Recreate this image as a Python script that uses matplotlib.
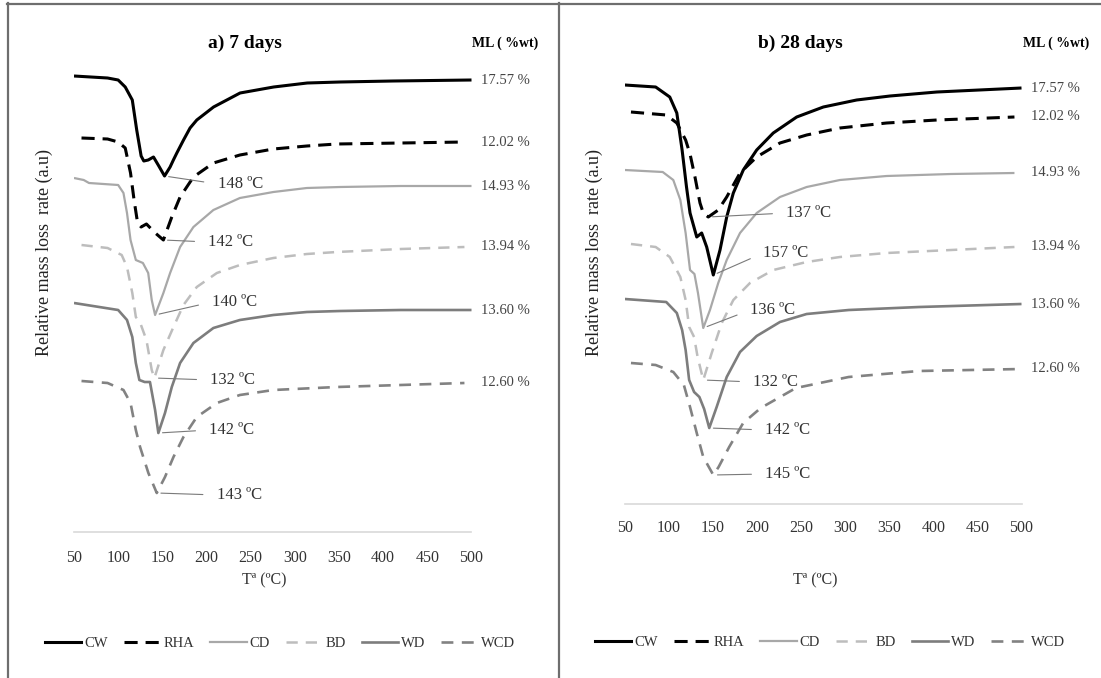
import matplotlib
matplotlib.use("Agg")
import matplotlib.pyplot as plt
from matplotlib.lines import Line2D
import numpy as np

plt.rcParams['font.family'] = ['Liberation Serif', 'DejaVu Serif']

# ---------------- data (temperature in ºC, relative mass-loss rate in a.u.) -------------
series_names = ["CW", "RHA", "CD", "BD", "WD", "WCD"]
xtick_values = [50, 100, 150, 200, 250, 300, 350, 400, 450, 500]
xtick_labels = ["50", "100", "150", "200", "250", "300", "350", "400", "450", "500"]
ml_labels = ["17.57 %", "12.02 %", "14.93 %", "13.94 %", "13.60 %", "12.60 %"]

# ---- a) 7 days
T_cw7 = [50, 88, 100, 108, 116, 121, 126, 129, 134, 140, 146, 152.5, 158.8, 162.5, 166.4, 174, 181.4, 189, 208, 223, 238, 276, 314, 351, 411, 500]
y_cw7 = [456, 454, 452, 445, 432, 402, 376, 371, 372, 375, 366, 356, 365, 372, 379, 392, 404, 412, 425, 432, 439, 445, 449, 450, 451, 452]
T_rha7 = [58.5, 88, 100, 108, 114, 118, 122, 126, 132, 142, 151.2, 160.7, 170.1, 185.2, 207.8, 237.8, 275.7, 313.6, 347.5, 420, 492]
y_rha7 = [394, 393, 390, 384, 359, 332, 309, 305, 308, 299, 292, 315, 335, 355, 369, 377, 383, 386, 388, 389, 390]
T_cd7 = [50, 61, 67, 100, 106, 110, 114, 120, 128, 134, 138, 141.8, 151.2, 158.8, 170.1, 185.2, 207.8, 237.8, 275.7, 313.6, 351.3, 420, 500]
y_cd7 = [354, 352, 349, 347, 339, 319, 292, 272, 269, 259, 232, 217, 239, 259, 285, 305, 322, 334, 340, 344, 345, 346, 346]
T_bd7 = [58.5, 88, 104, 110, 116, 120, 125, 132, 138, 141, 151.2, 162.6, 173.9, 189, 211.7, 237.8, 275.7, 313.6, 347.5, 420, 492]
y_bd7 = [287, 284, 277, 265, 239, 215, 209, 192, 162, 154, 182, 205, 227, 245, 259, 267, 274, 278, 280, 283, 285]
T_wd7 = [50, 100, 110, 116, 120, 124, 130, 136, 141.8, 145.5, 153, 160.7, 170.1, 185.2, 207.8, 237.8, 275.7, 313.6, 351.3, 420, 500]
y_wd7 = [229, 222, 212, 195, 169, 152, 150, 150, 122, 99, 119, 145, 169, 189, 204, 212, 217, 220, 221, 222, 222]
T_wcd7 = [58.5, 88, 106, 114, 120, 124.8, 134.2, 143.7, 153, 162.6, 173.9, 189, 211.7, 237.8, 275.7, 347.5, 420, 492]
y_wcd7 = [151, 149, 142, 129, 102, 85, 59, 39, 55, 75, 95, 115, 129, 137, 142, 145, 147, 149]
peaks_7 = ["148 ºC", "142 ºC", "140 ºC", "132 ºC", "142 ºC", "143 ºC"]

# ---- b) 28 days
T_cw28 = [50, 85, 101, 109, 115, 120, 124, 131.6, 137.2, 142.9, 150.4, 158, 165.6, 173.1, 184.4, 199.6, 218.4, 245, 275.2, 313, 350.8, 404, 500]
y_cw28 = [419, 417, 407, 391, 354, 317, 291, 267, 271, 257, 229, 254, 287, 311, 334, 354, 371, 387, 397, 404, 408, 412, 416]
T_rha28 = [57, 97, 109, 119, 124, 129.6, 135.3, 139, 144.7, 156, 165.6, 180.7, 199.6, 226, 256.3, 294, 347, 404, 492]
y_rha28 = [392, 389, 381, 364, 350, 327, 301, 291, 287, 294, 307, 331, 347, 361, 369, 376, 381, 384, 387]
T_cd28 = [50, 93, 105, 113, 119, 124, 129, 133, 139, 146.6, 156, 165.6, 180.7, 199.6, 226, 256.3, 294, 347, 420, 492]
y_cd28 = [334, 332, 324, 304, 271, 234, 230, 211, 176, 194, 221, 244, 271, 291, 307, 317, 324, 328, 330, 331]
T_bd28 = [57, 85, 101, 113, 119, 123, 128.6, 132.6, 139, 148.6, 160, 173.1, 192, 218.4, 256.3, 294, 347, 420, 492]
y_bd28 = [260, 257, 247, 227, 204, 177, 167, 147, 124, 151, 181, 204, 221, 234, 242, 247, 251, 254, 257]
T_wd28 = [50, 97, 109, 115, 119, 123, 128.6, 134.6, 140, 145.8, 154.2, 165.6, 180.7, 199.6, 226, 256.3, 304, 384, 500]
y_wd28 = [205, 202, 191, 174, 154, 124, 112, 107, 95, 76, 97, 127, 152, 168, 182, 190, 194, 197, 200]
T_wcd28 = [57, 85, 105, 117, 124, 131.6, 139, 150.4, 156.4, 168.4, 184.3, 204.2, 244.1, 303.9, 383.6, 500]
y_wcd28 = [141, 139, 132, 119, 97, 71, 47, 29, 37, 57, 81, 96, 116, 127, 133, 135]
peaks_28 = ["157 ºC", "137 ºC", "136 ºC", "132 ºC", "142 ºC", "145 ºC"]

# ---------------- styles -------------
styles = {
    "CW":  dict(color="black", lw=2.2, ls="-"),
    "RHA": dict(color="black", lw=2.2, dashes=(4.3, 2.6)),
    "CD":  dict(color="#a8a8a8", lw=1.6, ls="-"),
    "BD":  dict(color="#bdbdbd", lw=1.8, dashes=(4.5, 3.2)),
    "WD":  dict(color="#7d7d7d", lw=1.9, ls="-"),
    "WCD": dict(color="#828282", lw=1.9, dashes=(4.5, 3.2)),
}

W, H = 1101, 678
fig = plt.figure(figsize=(W / 100, H / 100), dpi=100)


def fx(px):
    return px / W


def fy(py):
    return 1 - py / H


panels = [
    dict(rect=[fx(74), fy(532), 397.5 / W, 512 / H], ymax=512, pad=13,
         T=[T_cw7, T_rha7, T_cd7, T_bd7, T_wd7, T_wcd7],
         y=[y_cw7, y_rha7, y_cd7, y_bd7, y_wd7, y_wcd7],
         peaks=peaks_7,
         offsets=[(53, -8), (45, -2), (57, 13), (56, -2), (51, 3), (60, -2)],
         title="a) 7 days", title_x=245, ml_x=505, ylab_x=44, xlab=(264, 580),
         leg=(280, 643)),
    dict(rect=[fx(624.8), fy(504), 396.7 / W, 484 / H], ymax=484, pad=11.5,
         T=[T_cw28, T_rha28, T_cd28, T_bd28, T_wd28, T_wcd28],
         y=[y_cw28, y_rha28, y_cd28, y_bd28, y_wd28, y_wcd28],
         peaks=peaks_28,
         offsets=[(50, 22), (78, 4), (47, 18), (50, -2), (56, -2), (52, 1)],
         title="b) 28 days", title_x=800, ml_x=1056, ylab_x=594, xlab=(815, 580),
         leg=(830, 642)),
]

for p in panels:
    ax = fig.add_axes(p["rect"])
    ax.set_xlim(50, 500)
    ax.set_ylim(0, p["ymax"])
    for s in ("top", "right", "left"):
        ax.spines[s].set_visible(False)
    ax.spines["bottom"].set_color("#d9d9d9")
    ax.spines["bottom"].set_linewidth(1.2)
    ax.set_yticks([])
    ax.set_xticks(xtick_values)
    ax.set_xticklabels(xtick_labels)
    ax.tick_params(axis="x", length=0, pad=p["pad"], labelsize=11.5, labelcolor="#333333")
    ax.patch.set_alpha(0)

    for name, T, y, lab, pk, off in zip(series_names, p["T"], p["y"], ml_labels, p["peaks"], p["offsets"]):
        ax.plot(T, y, solid_capstyle="butt", dash_capstyle="butt",
                solid_joinstyle="round", **styles[name])
        # mass-loss label at end of curve
        ax.text(538.5, y[-1], lab, ha="center", va="center", fontsize=10.5,
                color="#444444", clip_on=False)
        # peak annotation
        i = int(np.argmin(y))
        ax.annotate(pk, xy=(T[i], y[i]), xytext=off, textcoords="offset pixels",
                    ha="left", va="center", fontsize=12, color="#333333",
                    annotation_clip=False,
                    arrowprops=dict(arrowstyle="-", color="#7a7a7a", lw=0.8,
                                    shrinkA=8, shrinkB=3, relpos=(0, 0.5)))

    fig.text(fx(p["title_x"]), fy(43), p["title"], ha="center", va="center",
             fontsize=14, fontweight="bold")
    fig.text(fx(p["ml_x"]), fy(43), "ML ( %wt)", ha="center", va="center",
             fontsize=10, fontweight="bold")
    fig.text(fx(p["ylab_x"]), fy(253), "Relative mass loss  rate (a.u)", rotation=90,
             ha="center", va="center", fontsize=13, color="#222222")
    fig.text(fx(p["xlab"][0]), fy(p["xlab"][1]), "Tª (ºC)", ha="center", va="center",
             fontsize=11.5, color="#333333")

    handles = [Line2D([], [], **styles[n]) for n in series_names]
    fig.legend(handles, series_names, loc="center",
               bbox_to_anchor=(fx(p["leg"][0]), fy(p["leg"][1])), ncol=6,
               frameon=False, fontsize=10.5, handlelength=2.5, handletextpad=0.2,
               columnspacing=1.1, labelcolor="#333333")

# frame lines of the composite figure
frame_kw = dict(transform=fig.transFigure, color="#6e6e6e", lw=1.6)
fig.add_artist(Line2D([fx(7.5), fx(7.5)], [fy(3), 0], **frame_kw))
fig.add_artist(Line2D([fx(7), 1], [fy(3.5), fy(3.5)], **frame_kw))
fig.add_artist(Line2D([fx(558.5), fx(558.5)], [fy(3), 0], **frame_kw))

fig.savefig("out.png", dpi=100)
